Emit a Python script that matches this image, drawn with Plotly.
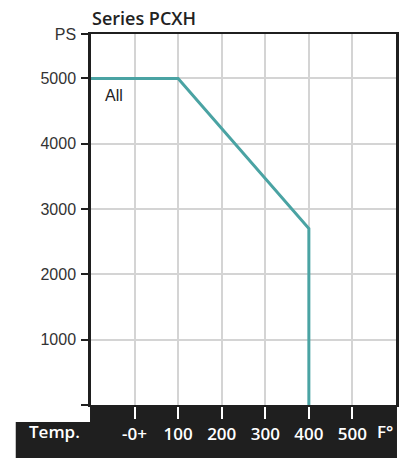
import plotly.graph_objects as go

# Data
temps = [-100, 100, 400, 400]
pressure = [5000, 5000, 2700, 0]
x_tickvals = [0, 100, 200, 300, 400, 500]
x_ticktext = ["-0+", "100", "200", "300", "400", "500"]
y_tickvals = [0, 1000, 2000, 3000, 4000, 5000, 5680]
y_ticktext = ["", "1000", "2000", "3000", "4000", "5000", "PS"]

W, H = 406, 458
L, R, T, B = 91, 7, 34, 53
pw, ph = W - L - R, H - T - B

def px(xpix):
    return (xpix - L) / pw

def py(ypix):
    return (H - B - ypix) / ph

band = "#1f1f1f"
teal = "#4aa3a3"

fig = go.Figure()
fig.add_trace(go.Scatter(x=temps, y=pressure, mode="lines",
                         line=dict(color=teal, width=3), hoverinfo="skip",
                         cliponaxis=False))

fig.update_layout(
    width=W, height=H,
    margin=dict(l=L, r=R, t=T, b=B),
    paper_bgcolor="white", plot_bgcolor="white",
    showlegend=False,
    xaxis=dict(range=[-100, 600], tickvals=x_tickvals, ticktext=x_ticktext,
               showgrid=True, gridcolor="#d4d4d4", gridwidth=1.5,
               zeroline=False, showline=True, mirror=True,
               linecolor="#1f1f1f", linewidth=2,
               ticks="outside", tickcolor="white", ticklen=12, tickwidth=2,
               ticklabelstandoff=1,
               tickfont=dict(family="Open Sans", size=17, color="white", weight=600),
               fixedrange=True),
    yaxis=dict(range=[0, 5680], tickvals=y_tickvals, ticktext=y_ticktext,
               showgrid=True, gridcolor="#d4d4d4", gridwidth=1.5,
               zeroline=False, showline=True, mirror=True,
               linecolor="#1f1f1f", linewidth=2.5,
               ticks="outside", tickcolor="#1f1f1f", ticklen=7, tickwidth=2,
               ticklabelstandoff=2,
               tickfont=dict(family="Liberation Sans", size=16, color="#333333"),
               fixedrange=True),
    shapes=[
        dict(type="rect", xref="paper", yref="paper", layer="below",
             x0=px(90), x1=px(400), y0=py(405), y1=py(423),
             fillcolor=band, line=dict(width=0)),
        dict(type="rect", xref="paper", yref="paper", layer="below",
             x0=px(15), x1=px(400), y0=py(422), y1=py(459),
             fillcolor=band, line=dict(width=0)),
    ],
    annotations=[
        dict(text="Series PCXH", xref="paper", yref="paper",
             x=px(90), y=py(18), xanchor="left", yanchor="middle",
             showarrow=False,
             font=dict(family="Open Sans", size=18, color="#222222", weight=600)),
        dict(text="All", xref="paper", yref="paper",
             x=px(114), y=py(95), xanchor="center", yanchor="middle",
             showarrow=False, bgcolor="white", borderpad=6,
             font=dict(family="Liberation Sans", size=16, color="#222222")),
        dict(text="Temp.", xref="paper", yref="paper",
             x=px(54), y=py(431), xanchor="center", yanchor="middle",
             showarrow=False,
             font=dict(family="Open Sans", size=17, color="white", weight=600)),
        dict(text="F°", xref="paper", yref="paper",
             x=px(378), y=py(431), xanchor="left", yanchor="middle",
             showarrow=False,
             font=dict(family="Open Sans", size=17, color="white", weight=600)),
    ],
)

fig.write_html("out.html", config={"displayModeBar": False},
               post_script="document.body.style.margin='0';")
